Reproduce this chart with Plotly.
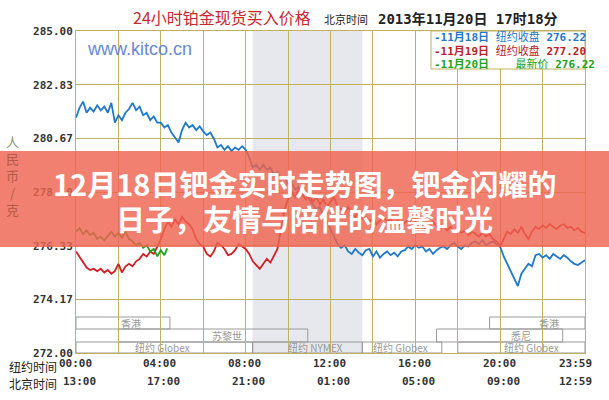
import plotly.graph_objects as go

# ---------------- data ----------------
hours_full = [i / 6 for i in range(145)]
blue_vals = [
    281.5, 281.9, 282.15, 281.7, 281.9, 281.75,
    282.0, 281.8, 281.95, 281.7, 282.1, 281.3,
    281.6, 281.4, 281.7, 281.85, 282.1, 281.8,
    281.95, 281.6, 281.7, 281.4, 281.55, 281.3,
    281.3, 281.1, 281.2, 280.9, 280.7, 280.5,
    281.0, 281.3, 281.1, 281.2, 281.0, 281.15,
    280.95, 280.8, 280.9, 280.65, 280.3, 280.4,
    280.2, 280.35, 280.15, 280.3, 280.2, 280.35,
    280.2, 279.9, 279.5, 279.6, 279.4, 279.6,
    279.4, 279.5, 279.2, 279.3, 279.0, 279.1,
    278.8, 278.9, 278.6, 278.7, 278.4, 278.5,
    278.2, 278.0, 277.8, 277.9, 277.5, 277.3,
    277.0, 276.7, 276.4, 276.25, 276.35, 276.1,
    276.0, 276.2, 276.05, 275.95, 276.15, 276.2,
    275.9, 276.1, 275.85, 276.0, 276.1, 275.95,
    276.05, 275.9, 276.1, 276.15, 276.3, 276.2,
    276.35, 276.25, 276.3, 276.1, 276.2, 276.0,
    276.15, 276.25, 276.3, 276.2, 276.35, 276.45,
    276.3, 276.2, 276.35, 276.3, 276.45, 276.5,
    276.4, 276.55, 276.35, 276.45, 276.5, 276.4,
    276.3, 275.9, 275.6, 275.3, 275.0, 274.7,
    275.2, 275.4, 275.6, 275.5, 275.95, 276.0,
    275.85, 275.95, 275.8, 276.0, 275.9, 275.8,
    275.95, 275.85, 275.7, 275.6, 275.55, 275.65,
    275.75,
]
red_vals = [
    276.1, 275.9, 275.7, 275.45, 275.35, 275.4,
    275.3, 275.4, 275.25, 275.35, 275.2, 275.3,
    275.6, 275.25, 275.5, 275.6, 275.5, 275.7,
    275.8, 276.0, 275.9, 276.1, 276.0, 276.3,
    276.6, 277.0, 277.3, 277.1, 277.4, 277.2,
    277.5, 277.3, 277.2, 277.0, 276.6, 276.4,
    276.3, 276.0, 275.9, 276.1, 276.45, 276.35,
    276.2, 275.95, 276.0, 276.15, 276.4, 276.3,
    276.2, 276.0, 275.7, 275.55, 275.4, 275.6,
    275.8, 275.65, 275.9, 276.2, 277.0, 277.8,
    278.2, 278.5, 278.3, 278.6, 278.4, 278.2,
    278.4, 278.1, 278.3, 278.0, 278.2, 277.9,
    278.1, 278.3, 277.9, 277.8, 277.7, 277.9,
    277.6, 277.5, 277.7, 277.4, 277.5, 277.3,
    277.45, 277.2, 277.35, 277.5, 277.3, 277.4,
    277.2, 277.35, 277.1, 277.25, 277.4, 277.2,
    277.3, 277.1, 277.2, 277.0, 277.15, 277.3,
    277.1, 277.0, 277.15, 276.95, 277.1, 276.9,
    277.0, 276.85, 276.95, 276.75, 276.9, 276.8,
    276.7, 276.85, 276.7, 276.8, 276.6, 276.5,
    276.3, 276.6, 276.9, 276.8, 277.0, 276.85,
    277.1, 276.8, 276.6, 276.9, 277.1, 277.0,
    277.15, 277.05, 277.2, 277.1, 277.0, 277.15,
    277.2, 277.05, 277.1, 276.95, 277.05, 276.9,
    276.85,
]
green_hours = [i / 6 for i in range(26)] + [4.3]
green_vals = [
    276.9, 277.05, 276.8, 276.95, 276.75, 276.85,
    276.6, 276.7, 276.55, 276.75, 276.9, 276.7,
    276.85, 276.65, 276.9, 276.6, 276.5, 276.35,
    276.45, 276.25, 276.35, 276.1, 276.2, 275.9,
    276.15, 275.95, 276.22,
]

y_ticks = [272.00, 274.17, 276.33, 278.50, 280.67, 282.83, 285.00]
x_tick_hours = [0, 4, 8, 12, 16, 20, 24]
ny_labels = ["00:00", "04:00", "08:00", "12:00", "16:00", "20:00", "23:59"]
bj_labels = ["13:00", "17:00", "21:00", "01:00", "05:00", "09:00", "12:59"]

legend_dates = ["11月18日", "11月19日", "11月20日"]
legend_kinds = ["纽约收盘", "纽约收盘", "   最新价"]
legend_prices = [276.22, 277.20, 276.22]

nymex_band = (8.33, 13.5)
# (label, start hour, end hour, row) rows: 0=top, 1=middle, 2=bottom
sessions = [
    ("香港", 0.0, 4.43, 0),
    ("苏黎世", 2.0, 10.93, 1),
    ("纽约 Globex", 0.0, 8.33, 2),
    ("纽约 NYMEX", 8.33, 13.5, 2),
    ("纽约 Globex", 13.5, 17.25, 2),
    ("悉尼", 17.0, 22.95, 1),
    ("香港", 19.5, 24.0, 0),
    ("纽约 Globex", 18.0, 24.0, 2),
]
session_label_hours = [2.6, 7.1, 4.1, 11.3, 15.3, 21.0, 22.3, 21.5]

title_text = "24小时铂金现货买入价格"
time_text = "2013年11月20日 17时18分"
banner_lines = ["12月18日钯金实时走势图，钯金闪耀的", "日子，友情与陪伴的温馨时光"]

# ---------------- layout helpers ----------------
W, H = 609, 400
ML, MR, MT, MB = 76, 24, 31, 47
PW, PH = W - ML - MR, H - MT - MB


def px(x):
    return (x - ML) / PW


def py(y):
    return (H - MB - y) / PH


GRID = "#c2b061"
CJK = "Noto Sans CJK SC"
MONO = "DejaVu Sans Mono"
BLUE, RED, GREEN = "#1f78c8", "#d01f25", "#21a321"

fig = go.Figure()
fig.add_trace(go.Scatter(x=hours_full, y=blue_vals, mode="lines",
                         line=dict(color=BLUE, width=1.8), hoverinfo="skip"))
fig.add_trace(go.Scatter(x=hours_full, y=red_vals, mode="lines",
                         line=dict(color=RED, width=1.8), hoverinfo="skip"))
fig.add_trace(go.Scatter(x=green_hours, y=green_vals, mode="lines",
                         line=dict(color=GREEN, width=1.8), hoverinfo="skip"))

shapes = []
annotations = []


def ann(**kw):
    kw.setdefault("xref", "paper")
    kw.setdefault("yref", "paper")
    kw.setdefault("xanchor", "center")
    kw.setdefault("yanchor", "middle")
    kw.setdefault("showarrow", False)
    annotations.append(kw)


# NYMEX grey band
shapes.append(dict(type="rect", xref="x", yref="paper", x0=nymex_band[0], x1=nymex_band[1],
                   y0=0, y1=1, fillcolor="#e7e7ee", line=dict(width=0), layer="below"))
# session boxes
row_px = [(317, 329), (329, 342), (342, 353)]
for (name, s, e, r), lh in zip(sessions, session_label_hours):
    top, bot = row_px[r]
    shapes.append(dict(type="rect", xref="x", yref="paper", x0=s, x1=e,
                       y0=py(bot), y1=py(top), line=dict(color="#9a9a9a", width=1),
                       fillcolor="rgba(0,0,0,0)", layer="between"))
    ann(x=lh, xref="x", y=py((top + bot) / 2), text=name,
        font=dict(family=CJK + ", Liberation Sans", size=10, color="#999999"))

# legend box
shapes.append(dict(type="rect", xref="paper", yref="paper", x0=px(431), x1=1,
                   y0=py(69), y1=1, fillcolor="white", line=dict(color=GRID, width=1),
                   layer="above"))
# banner
shapes.append(dict(type="rect", xref="paper", yref="paper", x0=px(0), x1=px(W),
                   y0=py(247), y1=py(151), fillcolor="rgba(238,100,80,0.82)",
                   line=dict(width=0), layer="above"))

# legend lines
for i, (d, k, p, c) in enumerate(zip(legend_dates, legend_kinds, legend_prices, [BLUE, "#b8232b", GREEN])):
    ann(x=px(432), y=py(37 + 13.5 * i), xanchor="left",
        text=f"<b>-{d}</b> {k} <b>{p:.2f}</b>",
        font=dict(family=MONO + ", " + CJK, size=11, color=c))

# x labels
for h, a, b, i in zip(x_tick_hours, ny_labels, bj_labels, range(7)):
    shift_a = -10 if i == 6 else -1
    shift_b = -10 if i == 6 else 3
    ann(x=h, xref="x", y=py(364), text=f"<b>{a}</b>", xshift=shift_a,
        font=dict(family=MONO, size=11, color="#333333"))
    ann(x=h, xref="x", y=py(382), text=f"<b>{b}</b>", xshift=shift_b,
        font=dict(family=MONO, size=11, color="#333333"))
ann(x=px(7), y=py(366), xanchor="left", text="纽约时间",
    font=dict(family=CJK, size=12, color="#222222"))
ann(x=px(7), y=py(383), xanchor="left", text="北京时间",
    font=dict(family=CJK, size=12, color="#222222"))

# titles
ann(x=px(222), y=py(17), text=title_text,
    font=dict(family=CJK, size=16, color="#c8282d"))
ann(x=px(322), y=py(19), xanchor="left", text="北京时间",
    font=dict(family=CJK, size=11, color="#222222"))
ann(x=px(376), y=py(19), xanchor="left", text=f"<b>{time_text}</b>",
    font=dict(family=MONO + ", " + CJK, size=14, color="#222222"))
ann(x=px(139), y=py(49), text="www.kitco.cn",
    font=dict(family="Liberation Sans", size=18, color="#6a88d6"))
# unit label
ann(x=px(12), y=py(175),
    text="<span style='color:#8f8f70'>人</span><br>民<br>币<br>/<br>克",
    font=dict(family=CJK, size=13, color="#b45a48"))
# banner text
for txt, yy in zip(banner_lines, [183, 218]):
    ann(x=px(304.5), y=py(yy), text=f"<b>{txt}</b>",
        font=dict(family=CJK, size=29, color="white"))

fig.update_layout(
    width=W, height=H, margin=dict(l=ML, r=MR, t=MT, b=MB, autoexpand=False),
    paper_bgcolor="white", plot_bgcolor="white", showlegend=False,
    shapes=shapes, annotations=annotations,
    xaxis=dict(range=[0, 24], dtick=2, tick0=0, showgrid=True, gridcolor=GRID, gridwidth=1,
               showticklabels=False, showline=True, linecolor=GRID, mirror=True, zeroline=False,
               fixedrange=True, automargin=False),
    yaxis=dict(range=[272, 285], tickvals=y_ticks,
               ticktext=[f"<b>{v:.2f}</b>" for v in y_ticks], showgrid=True, gridcolor=GRID,
               tickfont=dict(family=MONO, size=11, color="#333333"), ticks="",
               showline=True, linecolor=GRID, mirror=True, zeroline=False, fixedrange=True,
               automargin=False),
)

fig.write_html("out.html", config={"displayModeBar": False},
               post_script="document.body.style.margin='0';document.body.style.padding='0';")
